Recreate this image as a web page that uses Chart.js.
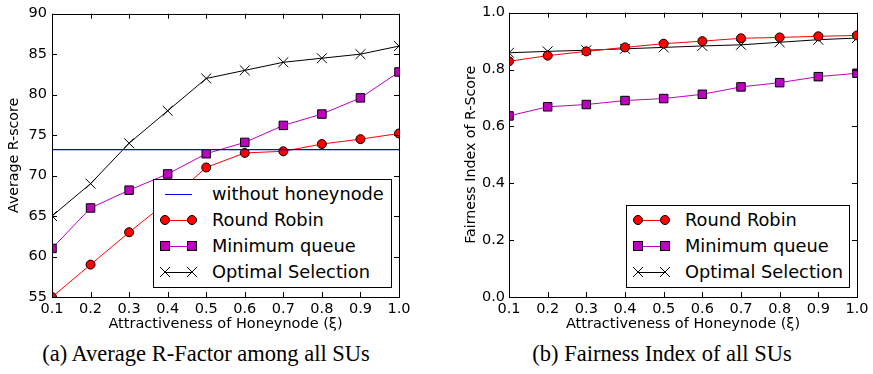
<!DOCTYPE html>
<html>
<head>
<meta charset="utf-8">
<script src="https://cdn.jsdelivr.net/npm/chart.js@4.4.1/dist/chart.umd.min.js"></script>
<style>
body { margin: 0; background: #fff; width: 873px; height: 374px; position: relative; overflow: hidden; font-family: "DejaVu Sans", sans-serif; }
canvas { position: absolute; top: 0; }
.legend { position: absolute; border: 1px solid #000; background: #fff; box-sizing: border-box; }
.row { position: absolute; left: 0; height: 26px; font-size: 17.8px; line-height: 26px; white-space: nowrap; }
.row svg { position: absolute; top: 0; }
.caption { position: absolute; top: 341px; font-family: "Liberation Serif", serif; font-size: 22.5px; white-space: nowrap; transform: translateX(-50%); }
</style>
</head>
<body>
<canvas id="left" width="420" height="335" style="left:0"></canvas>
<canvas id="right" width="433" height="335" style="left:440px"></canvas>
<div class="legend" id="legLeft" style="left:153px; top:179px; width:239px; height:109px"></div>
<div class="legend" id="legRight" style="left:626px; top:205px; width:224px; height:83px"></div>
<div class="caption" style="left:206px">(a) Average R-Factor among all SUs</div>
<div class="caption" style="left:662px">(b) Fairness Index of all SUs</div>
<script>
const xi = ['0.1', '0.2', '0.3', '0.4', '0.5', '0.6', '0.7', '0.8', '0.9', '1.0'];

// (a) average R-score
const scoreBaseline = [73.2, 73.2, 73.2, 73.2, 73.2, 73.2, 73.2, 73.2, 73.2, 73.2];
const scoreRoundRobin = [55, 59, 63, 66.8, 71, 72.8, 73, 73.9, 74.5, 75.2];
const scoreMinQueue = [61, 66, 68.2, 70.2, 72.7, 74.1, 76.2, 77.6, 79.6, 82.8];
const scoreOptimal = [65, 69, 74, 78, 82, 83, 84, 84.5, 85, 86];

// (b) fairness index
const fairRoundRobin = [0.829, 0.849, 0.864, 0.878, 0.891, 0.900, 0.910, 0.913, 0.917, 0.920];
const fairMinQueue = [0.637, 0.669, 0.677, 0.691, 0.698, 0.713, 0.739, 0.754, 0.775, 0.787];
const fairOptimal = [0.859, 0.864, 0.868, 0.873, 0.878, 0.883, 0.887, 0.896, 0.905, 0.911];

const names = { base: 'without honeynode', rr: 'Round Robin', mq: 'Minimum queue', opt: 'Optimal Selection' };

const styles = {
    base: { borderColor: 'rgb(0, 0, 255)', borderWidth: 1.3, pointRadius: 0 },
    rr: { borderColor: '#ff0000', pointStyle: 'circle', pointRadius: 4.5, pointBackgroundColor: '#ff0000' },
    mq: { borderColor: '#bf00bf', pointStyle: 'rect', pointRadius: 6, pointBackgroundColor: '#bf00bf' },
    opt: { borderColor: '#000000', pointStyle: 'crossRot', pointRadius: 7, pointBackgroundColor: '#000000' }
};

Chart.defaults.font.family = '"DejaVu Sans", sans-serif';
Chart.defaults.color = '#000';

function ds(key, data) {
    return Object.assign({ label: names[key], data, borderWidth: 1, pointBorderColor: '#000', pointBorderWidth: 1, tension: 0, clip: 0 }, styles[key]);
}

// axes box with inward ticks on every side, like the matplotlib original
const frame = {
    id: 'frame',
    afterDatasetsDraw(chart) {
        const { ctx, chartArea: a, scales: { x, y } } = chart;
        ctx.save();
        ctx.strokeStyle = '#000';
        ctx.lineWidth = 1;
        ctx.beginPath();
        x.ticks.forEach((t, i) => {
            const px = Math.round(x.getPixelForTick(i)) + 0.5;
            ctx.moveTo(px, a.bottom); ctx.lineTo(px, a.bottom - 5);
            ctx.moveTo(px, a.top); ctx.lineTo(px, a.top + 5);
        });
        y.ticks.forEach((t, i) => {
            const py = Math.round(y.getPixelForTick(i)) + 0.5;
            ctx.moveTo(a.left, py); ctx.lineTo(a.left + 5, py);
            ctx.moveTo(a.right, py); ctx.lineTo(a.right - 5, py);
        });
        ctx.stroke();
        ctx.strokeRect(Math.round(a.left) + 0.5, Math.round(a.top) + 0.5, Math.round(a.width), Math.round(a.height));
        ctx.restore();
    }
};

function makeChart(id, datasets, yOpts, yTitle, yWidth, yTitlePad, padRight) {
    return new Chart(document.getElementById(id), {
        type: 'line',
        data: { labels: xi, datasets },
        options: {
            responsive: false,
            animation: false,
            layout: { padding: { top: 10, right: padRight, bottom: 0, left: 0 } },
            plugins: { legend: { display: false }, tooltip: { enabled: false } },
            scales: {
                x: {
                    offset: false,
                    grid: { display: false, drawTicks: false },
                    border: { display: false },
                    ticks: { color: '#000', font: { size: 14.5 }, padding: 4, maxRotation: 0, autoSkip: false },
                    title: { display: true, text: 'Attractiveness of Honeynode (ξ)', color: '#000', font: { size: 14.5 }, padding: { top: 0, bottom: 2 } },
                    afterFit: s => { s.height = 38; }
                },
                y: Object.assign({
                    grid: { display: false, drawTicks: false },
                    border: { display: false },
                    title: { display: true, text: yTitle, color: '#000', font: { size: 14.2 }, padding: { top: yTitlePad, bottom: 0 } },
                    afterFit: s => { s.width = yWidth; }
                }, yOpts)
            }
        },
        plugins: [frame]
    });
}

makeChart('left',
    [ds('base', scoreBaseline), ds('rr', scoreRoundRobin), ds('mq', scoreMinQueue), ds('opt', scoreOptimal)],
    { min: 55, max: 90, ticks: { stepSize: 5, color: '#000', font: { size: 14.5 }, padding: 5 } },
    'Average R-score', 52, 6, 21);

makeChart('right',
    [ds('rr', fairRoundRobin), ds('mq', fairMinQueue), ds('opt', fairOptimal)],
    { min: 0, max: 1, ticks: { stepSize: 0.2, color: '#000', font: { size: 14.5 }, padding: 4, callback: v => v.toFixed(1) } },
    'Fairness Index of R-Score', 69, 23, 16);

// legend rows: sample line with a marker at each end, then the name
function marker(key, cx) {
    if (key === 'rr') return `<circle cx="${cx}" cy="13" r="4.5" fill="#ff0000" stroke="#000"/>`;
    if (key === 'mq') return `<rect x="${cx - 4.5}" y="8.5" width="9" height="9" fill="#bf00bf" stroke="#000"/>`;
    if (key === 'opt') return `<path d="M${cx - 5} 8 L${cx + 5} 18 M${cx - 5} 18 L${cx + 5} 8" stroke="#000"/>`;
    return '';
}

function buildLegend(id, keys, firstTop, sampleLeft, textLeft) {
    const box = document.getElementById(id);
    keys.forEach((k, i) => {
        const col = styles[k].borderColor;
        box.innerHTML += `<div class="row" style="top:${firstTop + i * 26}px; width:100%">
            <svg width="40" height="26" style="left:${sampleLeft - 6}px"><line x1="6" y1="13.5" x2="33" y2="13.5" stroke="${col}" stroke-width="1"/>${marker(k, 6)}${marker(k, 33)}</svg>
            <span style="position:absolute; left:${textLeft}px">${names[k]}</span></div>`;
    });
}

buildLegend('legLeft', ['base', 'rr', 'mq', 'opt'], 1, 11, 58);
buildLegend('legRight', ['rr', 'mq', 'opt'], 1, 11, 58);
</script>
</body>
</html>
